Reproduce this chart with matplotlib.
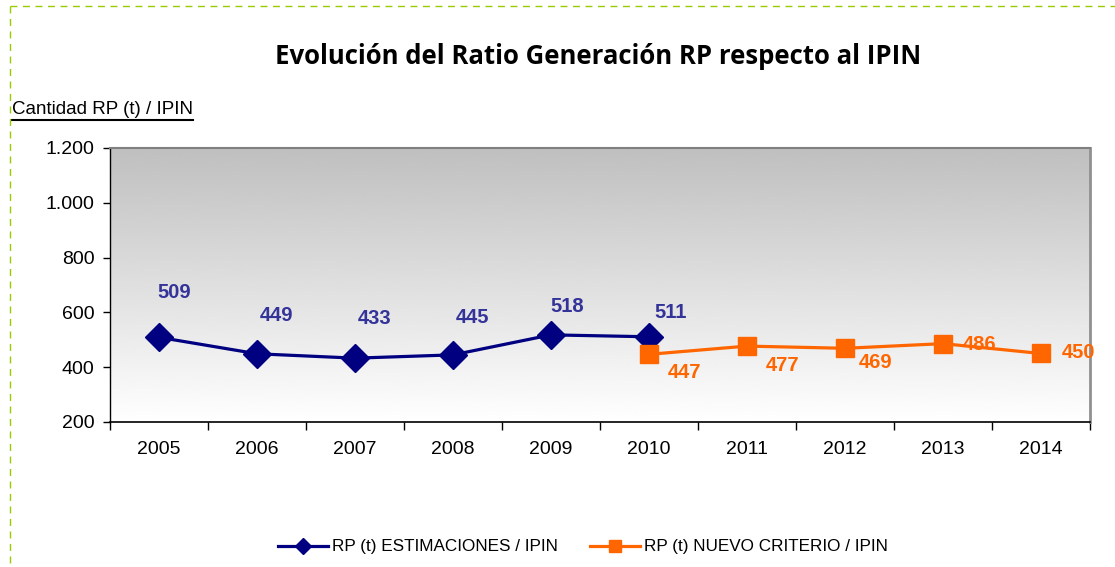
import numpy as np
import matplotlib
matplotlib.use('Agg')
import matplotlib.pyplot as plt
from matplotlib import font_manager
from matplotlib.lines import Line2D
from matplotlib.ticker import FuncFormatter

# datos
years = ['2005', '2006', '2007', '2008', '2009', '2010', '2011', '2012', '2013', '2014']
estimaciones = [509, 449, 433, 445, 518, 511]
nuevo_criterio = [447, 477, 469, 486, 450]
est_years = years[:6]
nuevo_years = years[5:]

# desplazamientos de etiquetas (px)
est_offsets = [(15, 45), (19, 38), (20, 40), (19, 37), (16, 28), (22, 24)]
nuevo_offsets = [(35, -18), (36, -19), (31, -14), (37, -1), (37, 1)]

names = {f.name for f in font_manager.fontManager.ttflist}
narrow = 'Liberation Sans Narrow' if 'Liberation Sans Narrow' in names else 'Liberation Sans'

plt.rcParams['font.family'] = ['Liberation Sans', 'DejaVu Sans']

W, H = 1115, 567
fig = plt.figure(figsize=(W / 100, H / 100), dpi=100)
ax = fig.add_axes([110 / W, 1 - 422 / H, (1090 - 110) / W, (422 - 148) / H])

# fondo degradado (gris arriba, blanco abajo)
grad = np.linspace(0.75, 1.0, 256).reshape(-1, 1)
ax.imshow(grad, cmap='gray', vmin=0, vmax=1, extent=[0, 1, 0, 1], transform=ax.transAxes,
          aspect='auto', zorder=0, interpolation='bicubic')

x_all = np.arange(len(years))
x_est = [years.index(y) for y in est_years]
x_new = [years.index(y) for y in nuevo_years]

navy = '#000080'
orange = '#FF6600'
ax.plot(x_est, estimaciones, color=navy, lw=2.3, marker='D', ms=14, zorder=3,
        label='RP (t) ESTIMACIONES / IPIN')
ax.plot(x_new, nuevo_criterio, color=orange, lw=2.3, marker='s', ms=13, zorder=4,
        label='RP (t) NUEVO CRITERIO / IPIN')

for xi, v, (dx, dy) in zip(x_est, estimaciones, est_offsets):
    ax.annotate(str(v), (xi, v), xytext=(dx * 0.72, dy * 0.72), textcoords='offset points',
                ha='center', va='center', fontsize=14.5, fontweight='bold', color='#333399', zorder=5)
for xi, v, (dx, dy) in zip(x_new, nuevo_criterio, nuevo_offsets):
    ax.annotate(str(v), (xi, v), xytext=(dx * 0.72, dy * 0.72), textcoords='offset points',
                ha='center', va='center', fontsize=14.5, fontweight='bold', color=orange, zorder=5)

ax.set_xlim(-0.5, len(years) - 0.5)
ax.set_ylim(200, 1200)
ax.set_yticks([200, 400, 600, 800, 1000, 1200])
ax.yaxis.set_major_formatter(FuncFormatter(lambda v, p: f'{int(v):,}'.replace(',', '.')))
ax.set_xticks(x_all)
ax.set_xticklabels(years)
ax.set_xticks(np.arange(-0.5, len(years)), minor=True)
ax.tick_params(axis='x', which='major', length=0, pad=14, labelsize=14)
ax.tick_params(axis='x', which='minor', length=6, width=1, direction='out')
ax.tick_params(axis='y', length=5, width=1, direction='out', labelsize=14, pad=6)

ax.spines['top'].set_color('#808080')
ax.spines['right'].set_color('#909090')
ax.spines['right'].set_linewidth(2)
ax.spines['top'].set_linewidth(1.5)
ax.spines['left'].set_color('black')
ax.spines['bottom'].set_color('black')
ax.spines['left'].set_linewidth(1)
ax.spines['bottom'].set_linewidth(1.2)

fig.text(598 / W, 1 - 57 / H, 'Evolución del Ratio Generación RP respecto al IPIN',
         ha='center', va='center', fontsize=18.5, fontweight='bold',
         family=['Open Sans', 'DejaVu Sans'])

ylab = fig.text(12 / W, 1 - 110 / H, 'Cantidad RP (t) / IPIN', ha='left', va='center',
                fontsize=13.5, family=[narrow, 'DejaVu Sans'])
fig.canvas.draw()
bb = ylab.get_window_extent().transformed(fig.transFigure.inverted())
fig.add_artist(Line2D([bb.x0, bb.x1], [bb.y0 - 0.002, bb.y0 - 0.002], color='black', lw=1.5,
                      transform=fig.transFigure))

leg = fig.legend(loc='center', bbox_to_anchor=(583 / W, 1 - 547 / H), ncol=2, frameon=False,
                 handlelength=2.9, columnspacing=1.9, handletextpad=0.25,
                 prop={'family': [narrow, 'DejaVu Sans'], 'size': 12.3})
for h in leg.legend_handles:
    h.set_markersize(8)

# borde discontinuo verde
green = '#99CC00'
fig.add_artist(Line2D([10 / W, 10 / W], [1 - 6 / H, 0], color=green, lw=1, ls=(0, (5, 4)),
                      transform=fig.transFigure))
fig.add_artist(Line2D([10 / W, 1], [1 - 6 / H, 1 - 6 / H], color=green, lw=1, ls=(0, (5, 4)),
                      transform=fig.transFigure))

fig.savefig('out.png', dpi=100)
